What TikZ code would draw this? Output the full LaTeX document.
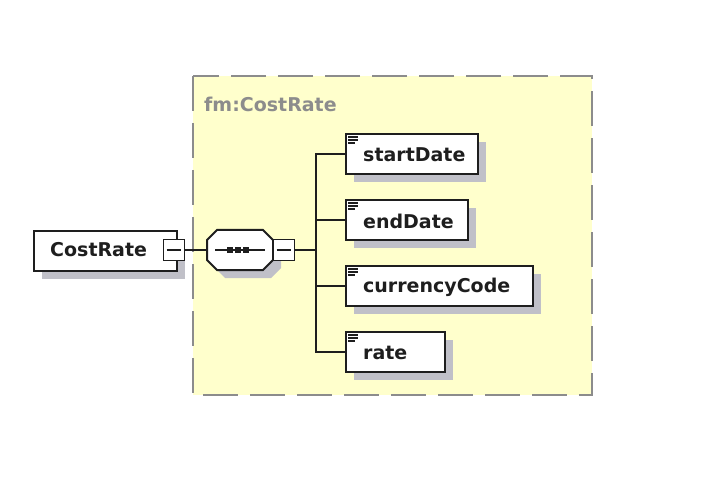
\documentclass[tikz,border=0pt]{standalone}
\usepackage{fontspec}
\setmainfont{DejaVu Sans}
\usetikzlibrary{shadows}
\definecolor{ylw}{RGB}{255,255,204}
\definecolor{shd}{RGB}{192,192,200}
\definecolor{dash}{RGB}{140,140,140}
\definecolor{ink}{RGB}{30,30,30}
\tikzset{
  elembox/.style={draw=ink, line width=2pt, fill=white, anchor=north west, inner sep=0pt,
    drop shadow={fill=shd, opacity=1, shadow xshift=8pt, shadow yshift=-8pt}},
  lbl/.style={anchor=west, inner sep=0pt, font=\fontsize{19}{22}\selectfont\bfseries, text=ink},
  minusbox/.style={draw=ink, line width=1.6pt, fill=white, minimum width=21pt, minimum height=21pt, inner sep=0pt},
  conn/.style={draw=ink, line width=2pt},
  icon/.style={draw=ink, line width=1.1pt},
  octo/.style={draw=ink, line width=2pt, fill=white}
}
\newcommand{\elemicon}[1]{%
  \draw[icon] ([xshift=3pt,yshift=-4pt]#1.north west) -- ++(10pt,0pt);
  \draw[icon] ([xshift=3pt,yshift=-7pt]#1.north west) -- ++(10pt,0pt);
  \draw[icon] ([xshift=3pt,yshift=-10pt]#1.north west) -- ++(7pt,0pt);
}
\newcommand{\octopath}[2]{% center x, y
  (#1-33,#2-10) -- (#1-23,#2-20) -- (#1+23,#2-20) -- (#1+33,#2-10) -- (#1+33,#2+10) -- (#1+23,#2+20) -- (#1-23,#2+20) -- (#1-33,#2+10) -- cycle}
\begin{document}
\begin{tikzpicture}[x=1pt,y=-1pt]
\useasboundingbox (0,0) rectangle (712,481);
\fill[white] (0,0) rectangle (712,481);
% group box
\path[fill=ylw] (193,76) rectangle (592,395);
\draw[draw=dash, line width=2pt, dash pattern=on 35pt off 12pt] (193,76) rectangle (592,395);
\node[anchor=west, inner sep=0pt, font=\fontsize{19}{22}\selectfont\bfseries, text=dash] (grp) at (204,104) {fm:CostRate};
% root element
\node[elembox, minimum width=143pt, minimum height=40pt] (root) at (33,230) {};
\node[lbl] (rootl) at (50,250) {CostRate};
\node[minusbox] (m1) at (174,250) {};
\draw[ink, line width=1.4pt] ([xshift=4pt]m1.west) -- ([xshift=-4pt]m1.east);
% sequence compositor
\fill[shd] \octopath{248}{258};
\draw[octo] \octopath{240}{250};
\node[minimum width=66pt, minimum height=40pt, inner sep=0pt] (seq) at (240,250) {};
\draw[ink, line width=1.6pt] (215,250) -- (265,250);
\foreach \dx in {230,238,246} \fill[ink] (\dx-3,247) rectangle (\dx+3,253);
\node[minusbox] (m2) at (284,250) {};
\draw[ink, line width=1.4pt] ([xshift=4pt]m2.west) -- ([xshift=-4pt]m2.east);
\draw[conn] (m1.east) -- (seq.west);
% children
\node[elembox, minimum width=132pt, minimum height=40pt] (c1) at (345,133) {};
\node[elembox, minimum width=122pt, minimum height=40pt] (c2) at (345,199) {};
\node[elembox, minimum width=187pt, minimum height=40pt] (c3) at (345,265) {};
\node[elembox, minimum width=99pt, minimum height=40pt] (c4) at (345,331) {};
\node[lbl] (l1) at (363,155) {startDate};
\node[lbl] (l2) at (363,221) {endDate};
\node[lbl] (l3) at (363,287) {currencyCode};
\node[lbl] (l4) at (363,353) {rate};
\elemicon{c1}
\elemicon{c2}
\elemicon{c3}
\elemicon{c4}
% connectors
\coordinate (trunk) at (316,250);
\draw[conn] (m2.east) -- (trunk);
\draw[conn] (c1.west) -| (trunk) |- (c4.west);
\draw[conn] (c2.west) -- (c2.west -| trunk);
\draw[conn] (c3.west) -- (c3.west -| trunk);
\end{tikzpicture}
\end{document}
